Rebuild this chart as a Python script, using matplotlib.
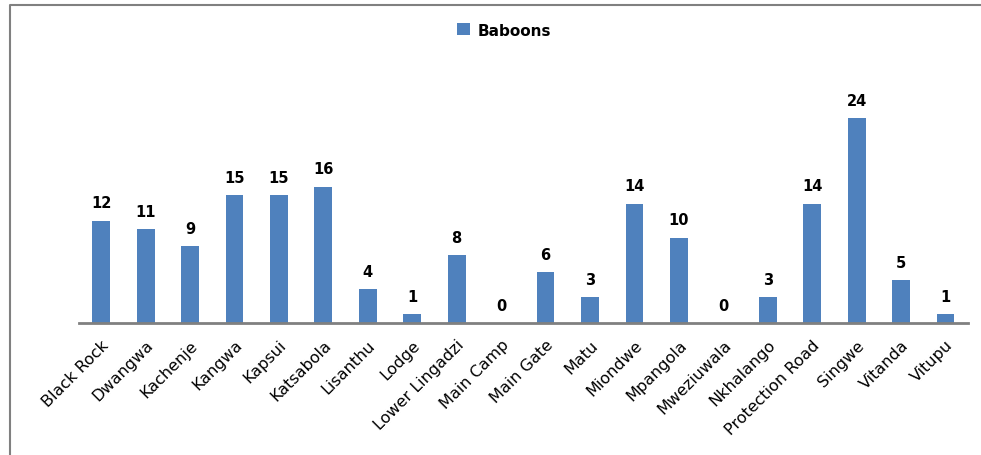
import matplotlib
matplotlib.use('Agg')
import matplotlib.pyplot as plt
from matplotlib.lines import Line2D
import numpy as np

sites = ['Black Rock', 'Dwangwa', 'Kachenje', 'Kangwa', 'Kapsui', 'Katsabola',
         'Lisanthu', 'Lodge', 'Lower Lingadzi', 'Main Camp', 'Main Gate', 'Matu',
         'Miondwe', 'Mpangola', 'Mweziuwala', 'Nkhalango', 'Protection Road',
         'Singwe', 'Vitanda', 'Vitupu']
baboons = [12, 11, 9, 15, 15, 16, 4, 1, 8, 0, 6, 3, 14, 10, 0, 3, 14, 24, 5, 1]

fig = plt.figure(figsize=(9.81, 4.56), dpi=100)
ax = fig.add_axes([0.0805, 0.2895, 0.906, 0.5237])

x = np.arange(len(sites))
bars = ax.bar(x, baboons, width=0.4, color='#4f81bd', label='Baboons')
for xi, v in zip(x, baboons):
    ax.text(xi, v + 1.2, str(v), ha='center', va='bottom', fontsize=10.5,
            fontweight='bold', color='black')

ax.set_xlim(-0.5, len(sites) - 0.5)
ax.set_ylim(0, 28)
ax.set_xticks(x)
ax.set_xticklabels(sites, rotation=45, ha='right', rotation_mode='anchor',
                   fontsize=11.5)
ax.tick_params(axis='x', length=0, pad=10)
ax.set_yticks([])
for s in ['top', 'right', 'left']:
    ax.spines[s].set_visible(False)
ax.spines['bottom'].set_color('#808080')
ax.spines['bottom'].set_linewidth(2)

fig.legend(handles=[bars], labels=['Baboons'], loc='center',
           bbox_to_anchor=(504 / 981, 1 - 31 / 456), frameon=False,
           prop={'weight': 'bold', 'size': 11}, handlelength=0.8,
           handleheight=0.8, handletextpad=0.5)

# outer chart frame (left and top edges only)
fig.add_artist(Line2D([10 / 981, 10 / 981, 1.0], [0.0, 1 - 6 / 456, 1 - 6 / 456],
                      transform=fig.transFigure, color='#808080', lw=1.5))

fig.savefig('out.png', dpi=100, facecolor='white')
